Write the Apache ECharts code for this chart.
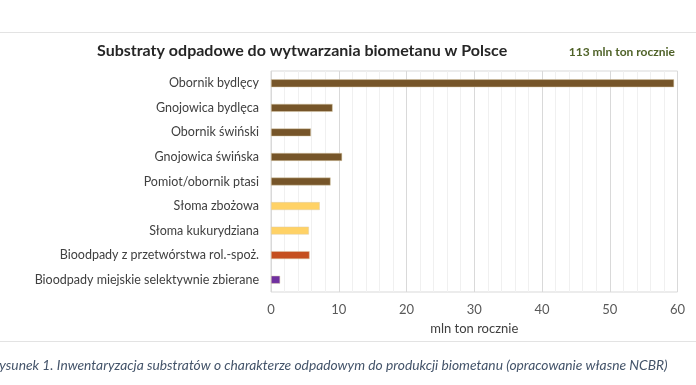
<!DOCTYPE html>
<html><head><meta charset="utf-8">
<script src="https://cdn.jsdelivr.net/npm/echarts@6/dist/echarts.min.js"></script>
<style>html,body{margin:0;padding:0;background:#fff}#c{width:696px;height:385px}</style>
</head><body><div id="c"></div>
<script>
const categories = ["Obornik bydlęcy","Gnojowica bydlęca","Obornik świński","Gnojowica świńska","Pomiot/obornik ptasi","Słoma zbożowa","Słoma kukurydziana","Bioodpady z przetwórstwa rol.-spoż.","Bioodpady miejskie selektywnie zbierane"];
const values = [59.5, 9.1, 5.9, 10.5, 8.8, 7.2, 5.6, 5.7, 1.35];
const barColors = ["#765529","#765529","#765529","#765529","#765529","#FFD266","#FFD266","#C5501F","#7030A0"];
const xTicks = [0,10,20,30,40,50,60];
const titleText = "Substraty odpadowe do wytwarzania biometanu w Polsce";
const totalText = "113 mln ton rocznie";
const axisTitle = "mln ton rocznie";
const caption = "Rysunek 1. Inwentaryzacja substratów o charakterze odpadowym do produkcji biometanu (opracowanie własne NCBR)";

const chart = echarts.init(document.getElementById('c'), null, {renderer:'canvas'});
chart.setOption({
  animation:false,
  backgroundColor:'#fff',
  textStyle:{fontFamily:'Lato'},
  grid:{left:271, right:18.5, top:71, bottom:93, show:true, borderColor:'#d9d9d9', borderWidth:1},
  xAxis:{type:'value', min:xTicks[0], max:xTicks[xTicks.length-1], interval:10,
    axisLine:{show:false}, axisTick:{show:false},
    axisLabel:{color:'#595959', fontSize:13, margin:11, fontFamily:'Lato'},
    splitLine:{lineStyle:{color:'#d9d9d9', width:1}},
    minorTick:{show:false, splitNumber:5},
    minorSplitLine:{show:true, lineStyle:{color:'#f0f0f0', width:1}},
    name:axisTitle, nameLocation:'middle', nameGap:30,
    nameTextStyle:{color:'#404040', fontSize:13, fontFamily:'Lato'}},
  yAxis:{type:'category', inverse:true, data:categories,
    axisLine:{show:false}, axisTick:{show:false}, splitLine:{show:false},
    axisLabel:{color:'#404040', fontSize:12.5, margin:12, fontFamily:'Lato'}},
  series:[{type:'bar', barWidth:8,
    data: values.map((v,i)=>({value:v, itemStyle:{color:barColors[i], borderColor:'rgba(220,205,170,0.8)', borderWidth:0.6}}))}],
  graphic:[
    {type:'line', shape:{x1:0,y1:32.5,x2:696,y2:32.5}, style:{stroke:'#e3e3e3', lineWidth:1}},
    {type:'line', shape:{x1:0,y1:341.5,x2:696,y2:341.5}, style:{stroke:'#e3e3e3', lineWidth:1}},
    {type:'text', x:97, y:51, style:{text:titleText, fill:'#262626', font:'bold 16px Lato', textVerticalAlign:'middle'}},
    {type:'text', x:675, y:52, style:{text:totalText, fill:'#4F6228', font:'bold 12px Lato', textAlign:'right', textVerticalAlign:'middle'}},
    {type:'text', x:-8.5, y:366, style:{text:caption, fill:'#44546A', font:'italic 13.8px Lato', textVerticalAlign:'middle'}}
  ]
});
</script></body></html>
